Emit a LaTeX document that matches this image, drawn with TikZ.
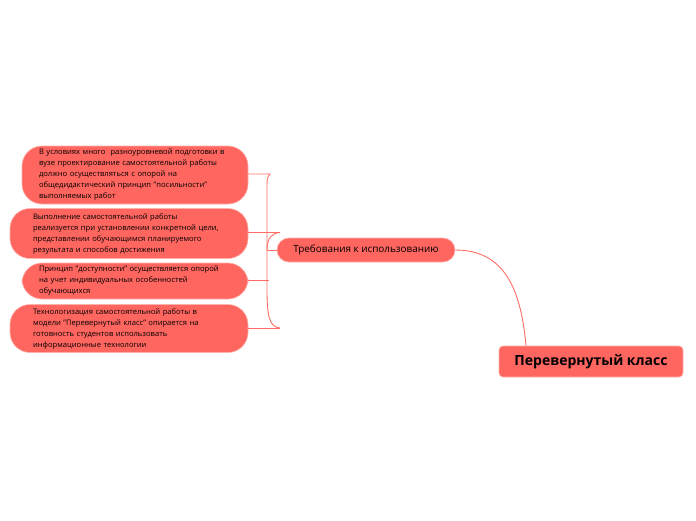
\documentclass[tikz,border=0pt]{standalone}
\usepackage{fontspec}
\setmainfont{Open Sans}
\definecolor{nodefill}{HTML}{FF6660}
\definecolor{linecol}{HTML}{FF6E66}
\definecolor{edgecol}{HTML}{FFB0AA}
\begin{document}
\begin{tikzpicture}[x=1pt,y=-1pt,
  sub/.style={draw=edgecol, line width=0.6pt, fill=nodefill, rounded corners=20pt, text width=192pt, align=left, inner xsep=0pt, inner ysep=0pt, font=\fontsize{7.6}{11}\selectfont, text=black},
  conn/.style={draw=linecol, line width=0.9pt},
]
\useasboundingbox (0,0) rectangle (696,520);
% root
\node[draw=edgecol, line width=0.6pt, fill=nodefill, rounded corners=4pt, minimum width=184pt, minimum height=31pt, inner sep=0pt, font=\fontsize{14}{16}\selectfont\bfseries] (root) at (591,361.5) {Перевернутый класс};
% main topic
\node[draw=edgecol, line width=0.6pt, fill=nodefill, rounded corners=12pt, minimum width=178pt, minimum height=24pt, inner sep=0pt, font=\fontsize{9.9}{12}\selectfont] (main) at (366,250) {Требования к использованию};
% children
\node[sub, minimum width=226pt, minimum height=58pt] (c1) at (135,175) {В условиях много\ \ разноуровневой подготовки в\\ вузе проектирование самостоятельной работы\\ должно осуществляться с опорой на\\ общедидактический принцип "посильности"\\ выполняемых работ};
\node[sub, minimum width=238pt, minimum height=50pt] (c2) at (129,233.5) {Выполнение самостоятельной работы\\ реализуется при установлении конкретной цели,\\ представлении обучающимся планируемого\\ результата и способов достижения};
\node[sub, minimum width=226pt, minimum height=36pt] (c3) at (135,281) {Принцип "доступности" осуществляется опорой\\ на учет индивидуальных особенностей\\ обучающихся};
\node[sub, minimum width=238pt, minimum height=48pt] (c4) at (129,328.5) {Технологизация самостоятельной работы в\\ модели "Перевернутый класс" опирается на\\ готовность студентов использовать\\ информационные технологии};
% connectors
\coordinate (bx) at (267,250);
\draw[conn] (main.west) -- (bx);
\draw[conn] (bx) .. controls (267,238) and (272,233) .. (280,232.5);
\draw[conn] (c1.east |- 0,174) -- (270,174) .. controls (267,178) .. (267,190) -- (267,290) .. controls (267,318) and (270,327) .. (280,328);
\draw[conn] (c2.east |- 0,232.5) -- (280,232.5);
\draw[conn] (c3.east |- 0,280) -- (269,280);
\draw[conn] (c4.east |- 0,328) -- (280,328);
\draw[conn] (main.east) .. controls (505,250) and (521,290) .. (root.north -| 526,0);
\end{tikzpicture}
\end{document}
